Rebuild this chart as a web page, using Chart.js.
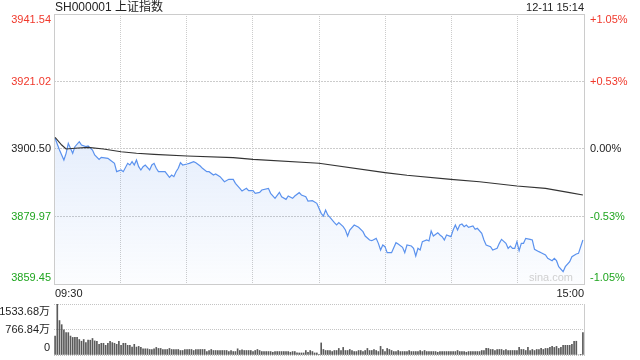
<!DOCTYPE html>
<html>
<head>
<meta charset="utf-8">
<script src="https://cdn.jsdelivr.net/npm/chart.js@4.4.1/dist/chart.umd.min.js"></script>
<style>
html, body { margin: 0; padding: 0; background: #fff; }
#wrap { position: relative; width: 640px; height: 360px; }
#priceChart { position: absolute; left: 0; top: 0; }
#volChart { position: absolute; left: 0; top: 298px; }
</style>
</head>
<body>
<div id="wrap">
  <canvas id="priceChart" width="640" height="300"></canvas>
  <canvas id="volChart" width="640" height="62"></canvas>
</div>
<script>
const title = 'SH000001 上证指数';
const stamp = '12-11 15:14';
const prevClose = 3900.50;
const priceTicks = [3859.45, 3879.97, 3900.50, 3921.02, 3941.54];
const pctTicks = ['-1.05%', '-0.53%', '0.00%', '+0.53%', '+1.05%'];
const timeLabels = ['09:30', '15:00'];
const volTicks = [0, 766.84, 1533.68];
const volTickLabels = ['0', '766.84万', '1533.68万'];

// [minute since 09:30 (lunch removed), price]
const pricePoints = [
    [0, 3903.74], [2, 3900.19], [4, 3897.15], [5, 3899.18], [6, 3902.22], [8, 3899.18], [9, 3901.20],
    [11, 3902.72], [12, 3901.71], [14, 3901.20], [15, 3901.41], [17, 3900.19], [18, 3898.67], [20, 3897.35],
    [21, 3897.96], [24, 3897.66], [25, 3897.15], [27, 3896.14], [28, 3893.60], [30, 3894.11], [31, 3893.60],
    [33, 3896.14], [34, 3895.63], [35, 3896.64], [36, 3895.63], [37, 3897.15], [38, 3895.12], [39, 3894.11],
    [40, 3895.12], [41, 3895.63], [43, 3894.11], [44, 3895.63], [45, 3896.14], [46, 3894.62], [47, 3893.60],
    [49, 3893.60], [50, 3893.60], [52, 3891.88], [53, 3892.59], [54, 3892.08], [55, 3893.60], [56, 3894.62],
    [57, 3896.34], [58, 3895.63], [60, 3895.93], [61, 3896.14], [63, 3896.64], [64, 3896.34], [66, 3895.32],
    [67, 3894.62], [69, 3893.60], [70, 3893.60], [72, 3892.59], [73, 3892.89], [75, 3892.08], [77, 3890.56],
    [79, 3891.27], [81, 3891.27], [82, 3890.05], [84, 3888.53], [85, 3887.72], [87, 3888.53], [88, 3887.82],
    [90, 3887.82], [91, 3887.01], [93, 3887.32], [94, 3888.03], [97, 3888.53], [98, 3887.01], [100, 3885.49],
    [102, 3887.32], [103, 3885.99], [105, 3885.19], [106, 3886.20], [108, 3885.49], [109, 3886.20], [111, 3887.22],
    [112, 3886.51], [114, 3885.99], [115, 3884.68], [117, 3884.78], [119, 3883.97], [121, 3880.93], [122, 3880.12],
    [123, 3881.95], [124, 3880.43], [125, 3879.72], [127, 3878.10], [128, 3877.39], [129, 3878.10], [131, 3876.88],
    [132, 3875.87], [133, 3874.04], [134, 3875.87], [136, 3877.39], [138, 3876.68], [140, 3875.36], [141, 3874.04],
    [143, 3872.83], [144, 3872.62], [146, 3873.33], [147, 3871.81], [148, 3869.78], [149, 3871.31], [150, 3870.80],
    [151, 3868.97], [153, 3868.97], [155, 3872.01], [156, 3871.61], [158, 3870.59], [159, 3868.97], [160, 3871.31],
    [162, 3871.00], [163, 3870.29], [164, 3867.96], [165, 3870.29], [166, 3869.78], [167, 3872.32], [169, 3872.83],
    [170, 3872.52], [171, 3875.56], [172, 3874.04], [174, 3875.05], [175, 3874.34], [176, 3873.84], [177, 3872.83],
    [178, 3874.34], [180, 3873.84], [181, 3875.87], [182, 3877.39], [183, 3875.87], [184, 3877.39], [185, 3877.69],
    [186, 3876.88], [187, 3877.39], [188, 3876.68], [190, 3877.08], [191, 3876.07], [192, 3876.37], [194, 3874.85],
    [195, 3872.83], [196, 3871.31], [198, 3870.80], [199, 3869.78], [201, 3870.29], [202, 3871.81], [203, 3873.03],
    [205, 3871.81], [206, 3870.29], [207, 3871.00], [208, 3870.29], [209, 3870.29], [210, 3872.32], [211, 3869.58],
    [212, 3871.81], [213, 3871.81], [214, 3873.33], [216, 3873.03], [217, 3872.83], [218, 3869.99], [220, 3869.28],
    [221, 3868.97], [223, 3868.26], [224, 3867.25], [226, 3866.54], [227, 3867.25], [228, 3866.54], [229, 3864.72],
    [231, 3863.20], [232, 3864.72], [234, 3866.24], [235, 3867.76], [237, 3868.57], [238, 3868.77], [240, 3872.83]
];

// average price line
const avgPoints = [
    [0, 3904.04], [3, 3901.71], [5, 3900.49], [9, 3900.70], [15, 3901.00], [22, 3900.49], [30, 3899.68],
    [37, 3899.18], [45, 3898.87], [60, 3898.37], [81, 3897.86], [90, 3897.35], [120, 3896.14], [150, 3893.30],
    [160, 3892.50], [180, 3891.27], [193, 3890.56], [210, 3889.24], [223, 3888.53], [234, 3887.22], [240, 3886.51]
];

// volume per minute (万), minutes 0..240
const volumes = [
    570, 1533.68, 1036, 912, 756, 673, 673, 570, 528, 528, 528, 466, 414, 466, 373, 445, 445, 497, 425, 414,
    321, 352, 352, 290, 352, 414, 373, 352, 321, 414, 290, 352, 352, 290, 290, 238, 321, 238, 259, 228,
    186, 186, 186, 166, 166, 186, 228, 197, 197, 166, 166, 166, 197, 166, 166, 166, 166, 135, 135, 166,
    166, 166, 166, 135, 166, 166, 166, 166, 166, 104, 135, 166, 135, 135, 135, 135, 135, 135, 135, 104,
    135, 104, 104, 186, 135, 155, 135, 135, 135, 135, 104, 135, 166, 135, 104, 104, 104, 104, 104, 83,
    104, 104, 104, 104, 104, 104, 104, 83, 104, 104, 62, 62, 62, 62, 135, 83, 135, 104, 62, 62,
    10, 363, 166, 135, 135, 135, 104, 135, 135, 197, 135, 228, 135, 135, 166, 135, 104, 104, 135, 135,
    104, 135, 197, 135, 135, 166, 135, 104, 259, 166, 104, 197, 166, 135, 104, 104, 135, 104, 104, 104,
    104, 135, 104, 104, 104, 104, 135, 104, 135, 104, 104, 104, 104, 104, 83, 104, 104, 104, 104, 104,
    104, 104, 104, 135, 104, 104, 104, 83, 104, 104, 104, 104, 104, 104, 135, 135, 197, 197, 166, 166,
    135, 166, 166, 166, 135, 166, 135, 135, 135, 135, 135, 228, 166, 166, 135, 228, 135, 166, 135, 166,
    166, 197, 166, 197, 197, 228, 259, 228, 259, 197, 228, 290, 290, 290, 290, 321, 414, 414, 0, 10,
    673
];

const red = '#f0382b';
const green = '#1fa51f';
const textColor = '#222';
const fontMain = '11px Arial, "Liberation Sans", "Noto Sans CJK SC", sans-serif';
const fontTitle = '12px Arial, "Liberation Sans", "Noto Sans CJK SC", sans-serif';

const xMin = -0.5;
const xMax = 240.5;

// plot frame
const frame = {
    id: 'frame',
    beforeDatasetsDraw(chart) {
        const ctx = chart.ctx, ca = chart.chartArea;
        ctx.save();
        ctx.strokeStyle = '#cccccc';
        ctx.lineWidth = 1;
        ctx.strokeRect(ca.left + 0.5, ca.top + 0.5, ca.right - ca.left, ca.bottom - ca.top);
        ctx.restore();
    }
};

const priceText = {
    id: 'priceText',
    afterDraw(chart) {
        const ctx = chart.ctx, ca = chart.chartArea, ys = chart.scales.y;
        ctx.save();
        ctx.textBaseline = 'middle';
        ctx.fillStyle = textColor;
        ctx.font = fontTitle;
        ctx.textAlign = 'left';
        ctx.fillText(title, ca.left + 1, 8);
        ctx.font = fontMain;
        ctx.textAlign = 'right';
        ctx.fillText(stamp, ca.right, 8);

        priceTicks.forEach((v, i) => {
            let y = ys.getPixelForValue(v);
            if (i === 0) y -= 6.5;
            if (i === priceTicks.length - 1) y += 6;
            ctx.fillStyle = v > prevClose ? red : (v < prevClose ? green : textColor);
            ctx.textAlign = 'right';
            ctx.fillText(v.toFixed(2), ca.left - 3, y);
            ctx.textAlign = 'left';
            ctx.fillText(pctTicks[i], ca.right + 6, y);
        });

        ctx.fillStyle = textColor;
        ctx.textAlign = 'left';
        ctx.fillText(timeLabels[0], ca.left + 1, ca.bottom + 9.5);
        ctx.textAlign = 'right';
        ctx.fillText(timeLabels[1], ca.right, ca.bottom + 9.5);

        ctx.fillStyle = '#d0d0d0';
        ctx.fillText('sina.com', ca.right - 11, ca.bottom - 6);
        ctx.restore();
    }
};

const volText = {
    id: 'volText',
    afterDraw(chart) {
        const ctx = chart.ctx, ca = chart.chartArea, ys = chart.scales.y;
        ctx.save();
        ctx.font = fontMain;
        ctx.textBaseline = 'middle';
        ctx.textAlign = 'right';
        ctx.fillStyle = textColor;
        volTicks.forEach((v, i) => {
            let y = ys.getPixelForValue(v);
            if (i === 0) y -= 7;
            if (i === volTicks.length - 1) y += 8;
            ctx.fillText(volTickLabels[i], ca.left - 4, y);
        });
        // right edge
        ctx.strokeStyle = '#cccccc';
        ctx.lineWidth = 1;
        ctx.beginPath();
        ctx.moveTo(ca.right + 0.5, ca.top);
        ctx.lineTo(ca.right + 0.5, ca.bottom + 1);
        ctx.stroke();
        ctx.restore();
    }
};

function areaFill(context) {
    const ca = context.chart.chartArea;
    if (!ca) return 'rgba(90,145,235,0.08)';
    const g = context.chart.ctx.createLinearGradient(0, ca.top + 110, 0, ca.bottom);
    g.addColorStop(0, 'rgba(90,145,235,0.17)');
    g.addColorStop(1, 'rgba(90,145,235,0.02)');
    return g;
}

const priceChart = new Chart(document.getElementById('priceChart').getContext('2d'), {
    type: 'line',
    data: {
        datasets: [
            {
                label: '均价',
                data: avgPoints.map(p => ({ x: p[0], y: p[1] })),
                borderColor: '#333333',
                borderWidth: 1.1,
                pointRadius: 0,
                fill: false,
                tension: 0
            },
            {
                label: '价格',
                data: pricePoints.map(p => ({ x: p[0], y: p[1] })),
                borderColor: '#5b92ee',
                borderWidth: 1.2,
                pointRadius: 0,
                fill: 'start',
                backgroundColor: areaFill,
                tension: 0
            }
        ]
    },
    options: {
        responsive: false,
        animation: false,
        devicePixelRatio: 1,
        events: [],
        layout: { padding: { left: 54, right: 56, top: 14, bottom: 16 } },
        plugins: { legend: { display: false }, tooltip: { enabled: false } },
        scales: {
            x: {
                type: 'linear',
                min: xMin,
                max: xMax,
                ticks: { display: false },
                grid: { color: '#cccccc', drawTicks: false },
                border: { display: false, dash: [1, 1] },
                afterBuildTicks: (scale) => {
                    const t = [];
                    for (let k = 0; k <= 8; k++) t.push({ value: xMin + k * (xMax - xMin) / 8 });
                    scale.ticks = t;
                },
                afterFit: (scale) => { scale.height = 0; }
            },
            y: {
                min: priceTicks[0],
                max: priceTicks[priceTicks.length - 1],
                ticks: { display: false },
                grid: { color: '#cccccc', drawTicks: false },
                border: { display: false, dash: [2, 1] },
                afterBuildTicks: (scale) => { scale.ticks = priceTicks.map(v => ({ value: v })); },
                afterFit: (scale) => { scale.width = 0; }
            }
        }
    },
    plugins: [frame, priceText]
});

const volChart = new Chart(document.getElementById('volChart').getContext('2d'), {
    type: 'bar',
    data: {
        datasets: [{
            label: '成交量',
            data: volumes.map((v, i) => ({ x: i, y: v })),
            backgroundColor: '#5a5a5a',
            barThickness: 1
        }]
    },
    options: {
        responsive: false,
        animation: false,
        devicePixelRatio: 1,
        events: [],
        layout: { padding: { left: 54, right: 56, top: 6, bottom: 5 } },
        plugins: { legend: { display: false }, tooltip: { enabled: false } },
        scales: {
            x: {
                type: 'linear',
                min: xMin,
                max: xMax,
                offset: false,
                ticks: { display: false },
                grid: { display: false, offset: false },
                border: { display: false },
                afterFit: (scale) => { scale.height = 0; }
            },
            y: {
                min: volTicks[0],
                max: volTicks[volTicks.length - 1],
                ticks: { display: false },
                grid: { color: '#c4c4c4', drawTicks: false },
                border: { display: false, dash: [1, 1] },
                afterBuildTicks: (scale) => { scale.ticks = volTicks.map(v => ({ value: v })); },
                afterFit: (scale) => { scale.width = 0; }
            }
        }
    },
    plugins: [volText]
});
</script>
</body>
</html>
